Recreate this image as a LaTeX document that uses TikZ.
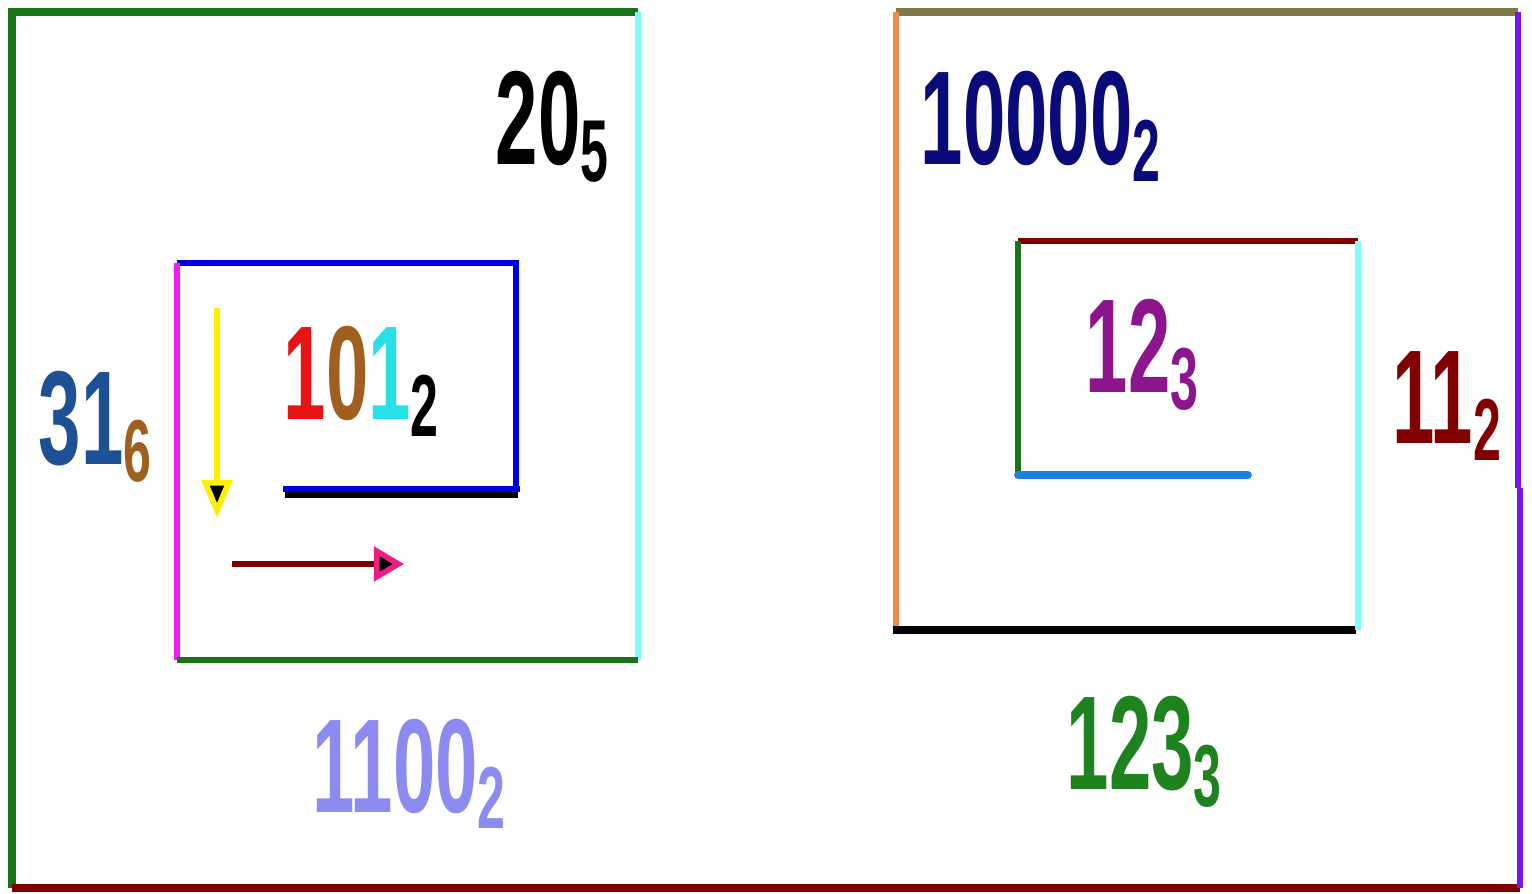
\documentclass[tikz,border=0pt]{standalone}
\usepackage{fontspec}
\setmainfont{Liberation Sans}
\usetikzlibrary{arrows.meta}
\newcommand{\bsub}[1]{\raisebox{-0.16cm}{\fontsize{25}{25}\selectfont #1}}
\newcommand{\narrow}[1]{\scalebox{0.57}[1]{#1}}
\tikzset{
  frame/.style={line width=1.6pt},
  thickframe/.style={line width=2.2pt},
  numlabel/.style={font=\fontsize{38}{38}\selectfont\bfseries, inner sep=0pt, anchor=base west}
}
\begin{document}
\begin{tikzpicture}[x=0.01cm,y=-0.01cm]
        \definecolor{framegreen}{RGB}{25,115,25}
        \definecolor{lightcyan}{RGB}{130,250,250}
        \definecolor{darkred}{RGB}{128,0,0}
        \definecolor{pureblue}{RGB}{0,0,225}
        \definecolor{hotmagenta}{RGB}{240,30,240}
        \definecolor{olivegray}{RGB}{128,120,70}
        \definecolor{softorange}{RGB}{240,135,75}
        \definecolor{brightviolet}{RGB}{120,20,240}
        \definecolor{skyblue}{RGB}{30,130,220}
        \definecolor{arrowyellow}{RGB}{255,240,0}
        \definecolor{arrowpink}{RGB}{240,30,130}
        \definecolor{navytext}{RGB}{10,10,120}
        \definecolor{steeltext}{RGB}{30,80,150}
        \definecolor{browntext}{RGB}{160,95,30}
        \definecolor{redtext}{RGB}{230,20,20}
        \definecolor{cyantext}{RGB}{40,225,230}
        \definecolor{lilactext}{RGB}{140,140,240}
        \definecolor{plumtext}{RGB}{140,20,140}
        \definecolor{greentext}{RGB}{30,130,30}
        \useasboundingbox (0,0) rectangle (1532,894);
        % left frame
        \draw[thickframe, framegreen] (12,888) -- (12,12) -- (638,12);
        \draw[frame, lightcyan] (638,12) -- (638,660);
        \draw[thickframe, darkred] (12,888) -- (1520,888);
        % inner left box
        \draw[frame, pureblue] (516,490) -- (516,263) -- (177,263);
        \draw[frame, hotmagenta] (177,263) -- (177,660);
        \draw[frame, framegreen] (177,660) -- (638,660);
        \draw[frame, black] (285,495) -- (518,495);
        \draw[frame, pureblue] (283,489) -- (520,489);
        % arrows
        \coordinate (ytop) at (217,308);
        \coordinate (ybot) at (217,518);
        \coordinate (rleft) at (232,564);
        \coordinate (rright) at (404,564);
        \draw[frame, arrowyellow, -{Triangle[length=0.38cm,width=0.3cm,fill=black]}] (ytop) -- (ybot);
        \draw[frame, darkred, -{Triangle[length=0.3cm,width=0.34cm,fill=black,color=arrowpink]}] (rleft) -- (rright);
        % right frame
        \draw[thickframe, olivegray] (896,12) -- (1518,12);
        \draw[frame, softorange] (896,12) -- (896,630);
        \draw[frame, brightviolet] (1518,12) -- (1518,488);
        \draw[frame, brightviolet] (1520,488) -- (1520,888);
        \draw[thickframe, black] (893,630) -- (1356,630);
        % inner right box
        \draw[frame, darkred] (1018,241) -- (1358,241);
        \draw[frame, lightcyan] (1358,241) -- (1358,630);
        \draw[frame, framegreen] (1018,241) -- (1018,475);
        \draw[thickframe, skyblue, line cap=round] (1018,475) -- (1248,475);
        % labels
        \node[numlabel, black] (twenty) at (495,165) {\narrow{20\bsub{5}}};
        \node[numlabel] (thirtyone) at (38,465) {\narrow{\color{steeltext}31\color{browntext}\bsub{6}}};
        \node[numlabel] (onezeroone) at (283,420) {\narrow{\color{redtext}1\color{browntext}0\color{cyantext}1\color{black}\bsub{2}}};
        \node[numlabel, lilactext] (twelve) at (312,812) {\narrow{1100\bsub{2}}};
        \node[numlabel, navytext] (sixteen) at (920,165) {\narrow{10000\bsub{2}}};
        \node[numlabel, plumtext] (five) at (1085,393) {\narrow{12\bsub{3}}};
        \node[numlabel, darkred] (three) at (1392,444) {\narrow{11\bsub{2}}};
        \node[numlabel, greentext] (fortyeight) at (1066,790) {\narrow{123\bsub{3}}};
    \end{tikzpicture}
\end{document}
